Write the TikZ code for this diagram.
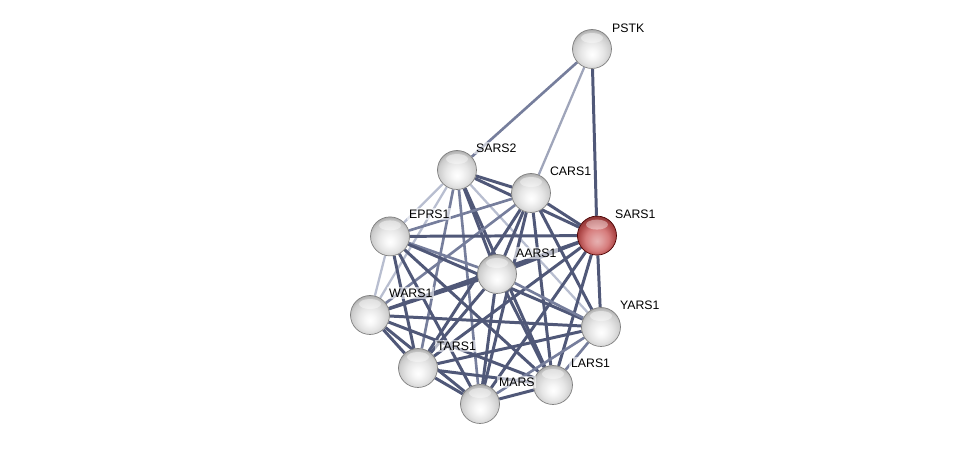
\documentclass[tikz,border=0pt]{standalone}
\usepackage{fontspec}
\setmainfont{Liberation Sans}
\usetikzlibrary{backgrounds}
\definecolor{edgedk}{RGB}{80,88,120}
\definecolor{edgemd}{RGB}{118,126,156}
\definecolor{edgelt}{RGB}{184,190,208}
\definecolor{selred}{RGB}{200,80,80}
\pgfdeclareradialshading{glassball}{\pgfpoint{0bp}{-7bp}}{%
  color(0bp)=(white); color(6bp)=(black!3); color(15bp)=(black!10);
  color(24bp)=(black!20); color(28bp)=(black!32); color(33bp)=(black!45); color(50bp)=(black!45)}
\pgfdeclareradialshading{redball}{\pgfpoint{0bp}{-7bp}}{%
  color(0bp)=(selred!45!white); color(6bp)=(selred!55!white); color(15bp)=(selred!75!white);
  color(24bp)=(selred!85!black); color(28bp)=(selred!70!black); color(33bp)=(selred!50!black); color(50bp)=(selred!50!black)}
\tikzset{
  ball/.style={circle,minimum size=0.78cm,inner sep=0pt,draw=black!50,line width=0.4pt,shading=glassball},
  selball/.style={ball,draw=red!30!black,shading=redball},
  shine/.style={fill=white,fill opacity=0.4},
  lab/.style={anchor=west,font=\fontsize{7}{8}\selectfont,inner sep=1pt,fill=white,fill opacity=0.6,text opacity=1},
  dk/.style={edgedk,line width=1.7pt},
  md/.style={edgemd,line width=1.5pt},
  lt/.style={edgelt,line width=1.3pt},
}
\begin{document}
\begin{tikzpicture}[x=0.02cm,y=-0.02cm]
\useasboundingbox (0,0) rectangle (975,449);
% proteins
\node[ball] (PSTK) at (592,49) {};
\node[ball] (SARS2) at (457,170) {};
\node[ball] (CARS1) at (531,193) {};
\node[selball] (SARS1) at (597,235.6) {};
\node[ball] (EPRS1) at (390,236.4) {};
\node[ball] (AARS1) at (497,274) {};
\node[ball] (WARS1) at (370,315) {};
\node[ball] (YARS1) at (601,327) {};
\node[ball] (TARS1) at (418,368) {};
\node[ball] (LARS1) at (553,385) {};
\node[ball] (MARS) at (480,404) {};
% highlights
\foreach \n in {PSTK,SARS2,CARS1,SARS1,EPRS1,AARS1,WARS1,YARS1,TARS1,LARS1,MARS}
  \fill[shine] ([yshift=0.22cm]\n.center) ellipse (0.22cm and 0.1cm);
% names
\node[lab] (lPSTK) at (610,28) {PSTK};
\node[lab] (lSARS2) at (474,148) {SARS2};
\node[lab] (lCARS1) at (548,171) {CARS1};
\node[lab] (lSARS1) at (613,214) {SARS1};
\node[lab] (lEPRS1) at (407,214) {EPRS1};
\node[lab] (lAARS1) at (514,253) {AARS1};
\node[lab] (lWARS1) at (387,293) {WARS1};
\node[lab] (lYARS1) at (618,305) {YARS1};
\node[lab] (lTARS1) at (435,346) {TARS1};
\node[lab] (lLARS1) at (569,363) {LARS1};
\node[lab] (lMARS) at (497,382) {MARS};
% interactions
\begin{pgfonlayer}{background}
\draw[md] (PSTK) -- (SARS2);
\draw[lt,edgemd!70] (PSTK) -- (CARS1);
\draw[dk] (PSTK) -- (SARS1);
\draw[dk] (SARS2) -- (CARS1);
\draw[dk] (SARS2) -- (SARS1);
\draw[lt] (SARS2) -- (EPRS1);
\draw[dk] (SARS2) -- (AARS1);
\draw[lt] (SARS2) -- (WARS1);
\draw[md] (SARS2) -- (TARS1);
\draw[md] (SARS2) -- (MARS);
\draw[dk] (SARS2) -- (LARS1);
\draw[lt] (SARS2) -- (YARS1);
\draw[dk] (CARS1) -- (SARS1);
\draw[md] (CARS1) -- (EPRS1);
\draw[dk] (CARS1) -- (AARS1);
\draw[md] (CARS1) -- (WARS1);
\draw[dk] (CARS1) -- (TARS1);
\draw[dk] (CARS1) -- (MARS);
\draw[dk] (CARS1) -- (LARS1);
\draw[dk] (CARS1) -- (YARS1);
\draw[dk] (SARS1) -- (EPRS1);
\draw[dk] (SARS1) -- (AARS1);
\draw[dk] (SARS1) -- (WARS1);
\draw[dk] (SARS1) -- (TARS1);
\draw[dk] (SARS1) -- (MARS);
\draw[dk] (SARS1) -- (LARS1);
\draw[dk] (SARS1) -- (YARS1);
\draw[md] (EPRS1) -- (AARS1);
\draw[lt] (EPRS1) -- (WARS1);
\draw[dk] (EPRS1) -- (TARS1);
\draw[dk] (EPRS1) -- (MARS);
\draw[dk] (EPRS1) -- (LARS1);
\draw[dk] (EPRS1) -- (YARS1);
\draw[dk] (AARS1) -- (WARS1);
\draw[dk] (AARS1) -- (TARS1);
\draw[dk] (AARS1) -- (MARS);
\draw[dk] (AARS1) -- (LARS1);
\draw[md] (AARS1) -- (YARS1);
\draw[dk] (WARS1) -- (TARS1);
\draw[dk] (WARS1) -- (MARS);
\draw[dk] (WARS1) -- (LARS1);
\draw[dk] (WARS1) -- (YARS1);
\draw[dk] (TARS1) -- (MARS);
\draw[dk] (TARS1) -- (LARS1);
\draw[dk] (TARS1) -- (YARS1);
\draw[dk] (MARS) -- (LARS1);
\draw[md] (MARS) -- (YARS1);
\draw[md] (LARS1) -- (YARS1);
\end{pgfonlayer}
\end{tikzpicture}
\end{document}
